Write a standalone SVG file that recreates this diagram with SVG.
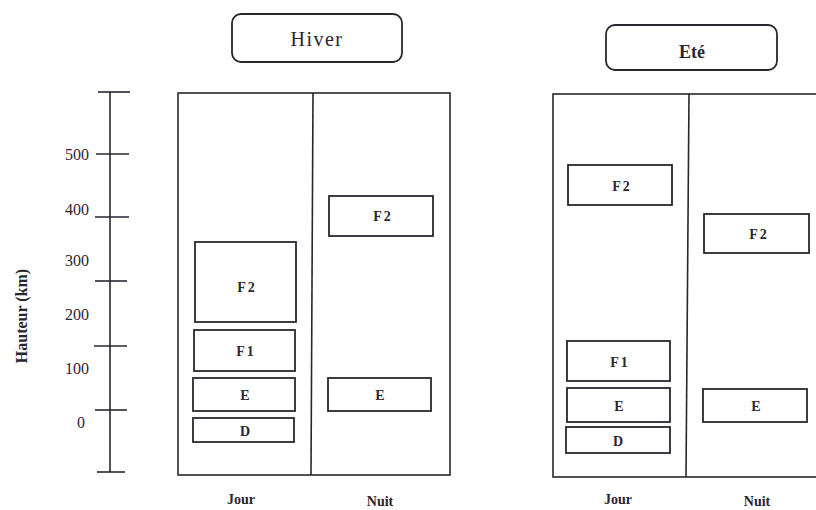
<svg xmlns="http://www.w3.org/2000/svg" width="816" height="510" viewBox="0 0 816 510">
<style>
.ln{stroke:#2a2630;stroke-width:1.6;fill:none}
.bx{stroke:#2a2630;stroke-width:1.8;fill:#fff}
.t{font-family:"Liberation Serif",serif;fill:#2a2630;text-anchor:middle}
.lay{font-size:14px;letter-spacing:2px;font-weight:bold}
.ax{font-size:16px;text-anchor:end}
.col{font-size:14px;font-weight:bold}
</style>
<rect width="816" height="510" fill="#fff"/>
<g id="axis">
<line class="ln" x1="110" y1="92" x2="110" y2="472"/>
<line class="ln" x1="98" y1="92" x2="130" y2="92"/>
<line class="ln" x1="97" y1="472" x2="125" y2="472"/>
<line class="ln" x1="96" y1="154" x2="129" y2="154"/>
<line class="ln" x1="95" y1="217" x2="129" y2="217"/>
<line class="ln" x1="95" y1="281" x2="127" y2="281"/>
<line class="ln" x1="94" y1="346" x2="127" y2="346"/>
<line class="ln" x1="95" y1="410" x2="127" y2="410"/>
<text class="t ax" x="89" y="160">500</text>
<text class="t ax" x="89" y="215">400</text>
<text class="t ax" x="89" y="266">300</text>
<text class="t ax" x="89" y="320">200</text>
<text class="t ax" x="89" y="374">100</text>
<text class="t ax" x="85" y="428">0</text>
<text class="t" font-size="16" font-weight="bold" transform="translate(27,316) rotate(-90)">Hauteur (km)</text>
</g>
<g id="title-hiver">
<rect class="bx" x="232" y="14" width="170" height="48" rx="9"/>
<text class="t" x="317" y="46" font-size="20" letter-spacing="1.5">Hiver</text>
</g>
<g id="title-ete">
<rect class="bx" x="606" y="25" width="171" height="45" rx="9"/>
<text class="t" x="692" y="58" font-size="18" font-weight="bold">Eté</text>
</g>
<g id="panel-hiver">
<rect class="ln" x="178" y="93" width="272" height="382"/>
<line class="ln" x1="313" y1="93" x2="311" y2="475"/>
<text class="t col" x="241" y="504">Jour</text>
<text class="t col" x="380" y="506">Nuit</text>
</g>
<g id="hiver-jour-F2"><rect class="bx" x="195" y="242" width="101" height="80"/><text class="t lay" x="247" y="292">F2</text></g>
<g id="hiver-jour-F1"><rect class="bx" x="194" y="330" width="101" height="41"/><text class="t lay" x="246" y="356">F1</text></g>
<g id="hiver-jour-E"><rect class="bx" x="193" y="378" width="102" height="33"/><text class="t lay" x="246" y="400">E</text></g>
<g id="hiver-jour-D"><rect class="bx" x="193" y="418" width="101" height="24"/><text class="t lay" x="246" y="436">D</text></g>
<g id="hiver-nuit-F2"><rect class="bx" x="329" y="196" width="104" height="40"/><text class="t lay" x="383" y="221">F2</text></g>
<g id="hiver-nuit-E"><rect class="bx" x="328" y="378" width="103" height="33"/><text class="t lay" x="381" y="400">E</text></g>
<g id="panel-ete">
<rect class="ln" x="553" y="94" width="270" height="383"/>
<line class="ln" x1="689" y1="94" x2="686" y2="477"/>
<text class="t col" x="618" y="504">Jour</text>
<text class="t col" x="757" y="506">Nuit</text>
</g>
<g id="ete-jour-F2"><rect class="bx" x="568" y="165" width="104" height="40"/><text class="t lay" x="622" y="191">F2</text></g>
<g id="ete-jour-F1"><rect class="bx" x="567" y="341" width="103" height="40"/><text class="t lay" x="620" y="367">F1</text></g>
<g id="ete-jour-E"><rect class="bx" x="567" y="388" width="103" height="34"/><text class="t lay" x="620" y="411">E</text></g>
<g id="ete-jour-D"><rect class="bx" x="566" y="427" width="104" height="26"/><text class="t lay" x="619" y="446">D</text></g>
<g id="ete-nuit-F2"><rect class="bx" x="704" y="214" width="105" height="39"/><text class="t lay" x="759" y="239">F2</text></g>
<g id="ete-nuit-E"><rect class="bx" x="703" y="389" width="104" height="33"/><text class="t lay" x="757" y="411">E</text></g>
</svg>
